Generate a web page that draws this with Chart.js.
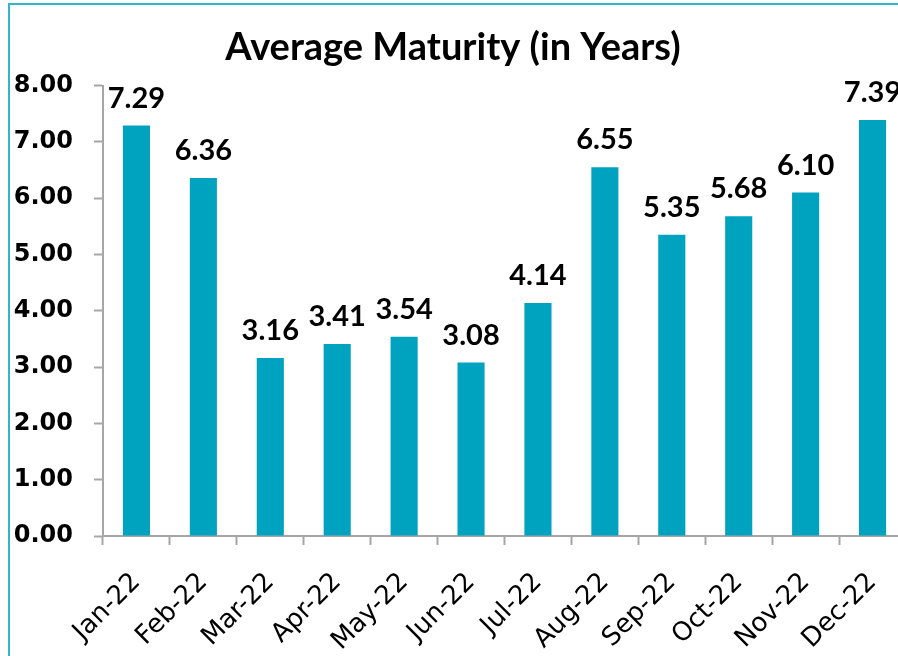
<!DOCTYPE html>
<html>
<head>
<meta charset="utf-8">
<script src="https://cdn.jsdelivr.net/npm/chart.js@4"></script>
<style>
  html, body { margin: 0; padding: 0; background: #fff; overflow: hidden; }
  #wrap { position: relative; width: 898px; height: 656px; overflow: hidden; }
  #frame {
    position: absolute; left: 8px; top: 3px; width: 1000px; height: 700px;
    border-top: 2px solid #2FB6C9; border-left: 2px solid #2FB6C9;
  }
  #myChart { position: absolute; left: 0; top: 0; }
</style>
</head>
<body>
<div id="wrap">
  <div id="frame"></div>
  <canvas id="myChart" width="906" height="656"></canvas>
</div>
<script>
const months = ['Jan-22', 'Feb-22', 'Mar-22', 'Apr-22', 'May-22', 'Jun-22',
                'Jul-22', 'Aug-22', 'Sep-22', 'Oct-22', 'Nov-22', 'Dec-22'];
const avgMaturity = [7.29, 6.36, 3.16, 3.41, 3.54, 3.08, 4.14, 6.55, 5.35, 5.68, 6.10, 7.39];
const yMin = 0;
const yMax = 8;
const yStep = 1;

// value labels above each bar
const barLabels = {
  id: 'barLabels',
  afterDatasetsDraw(chart) {
    const c = chart.ctx;
    const meta = chart.getDatasetMeta(0);
    c.save();
    c.font = 'bold 29px Lato, sans-serif';
    c.fillStyle = '#000';
    c.textAlign = 'center';
    c.textBaseline = 'alphabetic';
    meta.data.forEach((bar, i) => {
      c.fillText(avgMaturity[i].toFixed(2), bar.x, bar.y - 18);
    });
    c.restore();
  }
};

const ctx = document.getElementById('myChart').getContext('2d');
new Chart(ctx, {
  type: 'bar',
  data: {
    labels: months,
    datasets: [{
      label: 'Average Maturity',
      data: avgMaturity,
      backgroundColor: '#00A3BF',
      barPercentage: 0.81,
      categoryPercentage: 0.5
    }]
  },
  options: {
    responsive: false,
    animation: false,
    layout: { padding: 0 },
    plugins: {
      legend: { display: false },
      tooltip: { enabled: false },
      title: {
        display: true,
        text: 'Average Maturity (in Years)',
        color: '#000',
        font: { family: 'Lato, sans-serif', size: 38, weight: 'bold', lineHeight: 1.2 },
        padding: { top: 25, bottom: 15 }
      }
    },
    scales: {
      x: {
        afterFit: s => { s.height = 120; s.paddingLeft = 0; s.paddingRight = 0; },
        grid: { drawOnChartArea: false, tickLength: 9, tickWidth: 2, tickColor: '#A6A6A6', offset: true },
        border: { display: true, color: '#A6A6A6', width: 2 },
        ticks: {
          color: '#000',
          font: { family: '"DejaVu Sans", sans-serif', size: 26 },
          minRotation: 45,
          maxRotation: 45,
          padding: 22
        }
      },
      y: {
        min: yMin,
        max: yMax,
        afterFit: s => { s.width = 103; },
        grid: { drawOnChartArea: false, tickLength: 9, tickWidth: 2, tickColor: '#A6A6A6' },
        border: { display: true, color: '#A6A6A6', width: 2 },
        ticks: {
          stepSize: yStep,
          color: '#000',
          font: { family: '"DejaVu Sans", sans-serif', size: 24, weight: 'bold' },
          padding: 21,
          callback: v => v.toFixed(2)
        }
      }
    }
  },
  plugins: [barLabels]
});
</script>
</body>
</html>
